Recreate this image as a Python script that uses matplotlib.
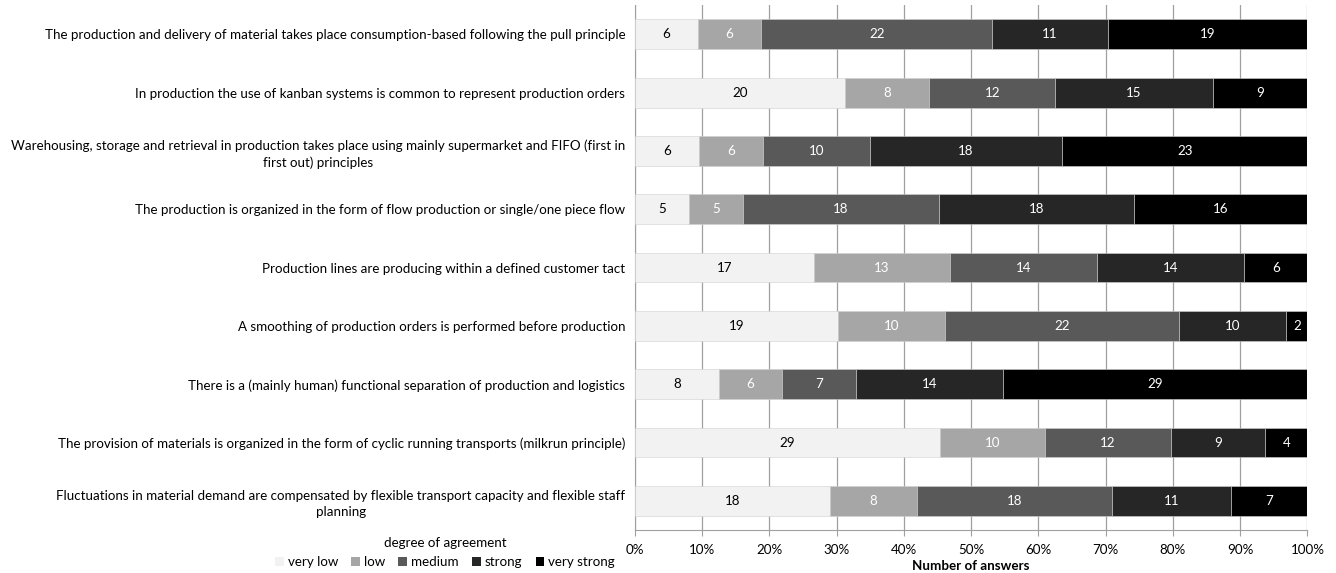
import numpy as np
import matplotlib.pyplot as plt
from matplotlib.patches import Patch

plt.rcParams['font.family'] = ['Lato', 'DejaVu Sans']

statements = [
    "The production and delivery of material takes place consumption-based following the pull principle",
    "In production the use of kanban systems is common to represent production orders",
    "Warehousing, storage and retrieval in production takes place using mainly supermarket and FIFO (first in\nfirst out) principles",
    "The production is organized in the form of flow production or single/one piece flow",
    "Production lines are producing within a defined customer tact",
    "A smoothing of production orders is performed before production",
    "There is a (mainly human) functional separation of production and logistics",
    "The provision of materials is organized in the form of cyclic running transports (milkrun principle)",
    "Fluctuations in material demand are compensated by flexible transport capacity and flexible staff\nplanning",
]

levels = ["very low", "low", "medium", "strong", "very strong"]
very_low = [6, 20, 6, 5, 17, 19, 8, 29, 18]
low = [6, 8, 6, 5, 13, 10, 6, 10, 8]
medium = [22, 12, 10, 18, 14, 22, 7, 12, 18]
strong = [11, 15, 18, 18, 14, 10, 14, 9, 11]
very_strong = [19, 9, 23, 16, 6, 2, 29, 4, 7]

colors = ["#f2f2f2", "#a6a6a6", "#595959", "#262626", "#000000"]
text_colors = ["black", "white", "white", "white", "white"]

counts = np.array([very_low, low, medium, strong, very_strong], dtype=float)
totals = counts.sum(axis=0)
shares = counts / totals

fs = 9.6

fig = plt.figure(figsize=(13.36, 5.73), dpi=100)
ax = fig.add_axes([0.4753, 0.075, 0.5033, 0.916])

y = np.arange(len(statements))
left = np.zeros(len(statements))
for i, lvl in enumerate(levels):
    bars = ax.barh(y, shares[i], left=left, height=0.51, color=colors[i],
                   edgecolor="#d0d0d0", linewidth=0.4, label=lvl, zorder=3)
    for j, b in enumerate(bars):
        ax.text(left[j] + shares[i][j] / 2, y[j], f"{int(counts[i][j])}",
                ha="center", va="center", color=text_colors[i], fontsize=fs, zorder=4)
    left += shares[i]

ax.set_ylim(len(statements) - 0.5, -0.5)
ax.set_xlim(0, 1)
ax.set_xticks(np.linspace(0, 1, 11))
ax.set_xticklabels([f"{k}%" for k in range(0, 101, 10)], fontsize=fs)
ax.set_yticks(y)
ax.set_yticklabels(statements, fontsize=fs, multialignment="center")
for t in ax.get_yticklabels():
    t.set_linespacing(1.4)
ax.tick_params(axis="y", length=0, pad=7)
ax.tick_params(axis="x", length=4, color="#a0a0a0", pad=6)
ax.grid(axis="x", color="#a0a0a0", linewidth=0.9, zorder=0)
for s in ["top", "right"]:
    ax.spines[s].set_visible(False)
ax.spines["left"].set_color("#a0a0a0")
ax.spines["bottom"].set_color("#a0a0a0")
ax.set_xlabel("Number of answers", fontsize=fs, fontweight="bold", labelpad=3)

handles = [Patch(facecolor=c, edgecolor="none") for c in colors]
fig.legend(handles, levels, loc="lower center", bbox_to_anchor=(0.333, -0.012), ncol=5,
           frameon=False, fontsize=fs, title="degree of agreement", title_fontsize=fs,
           handlelength=0.65, handleheight=0.65, handletextpad=0.3, columnspacing=1.0)

fig.savefig("out.png", dpi=100)
